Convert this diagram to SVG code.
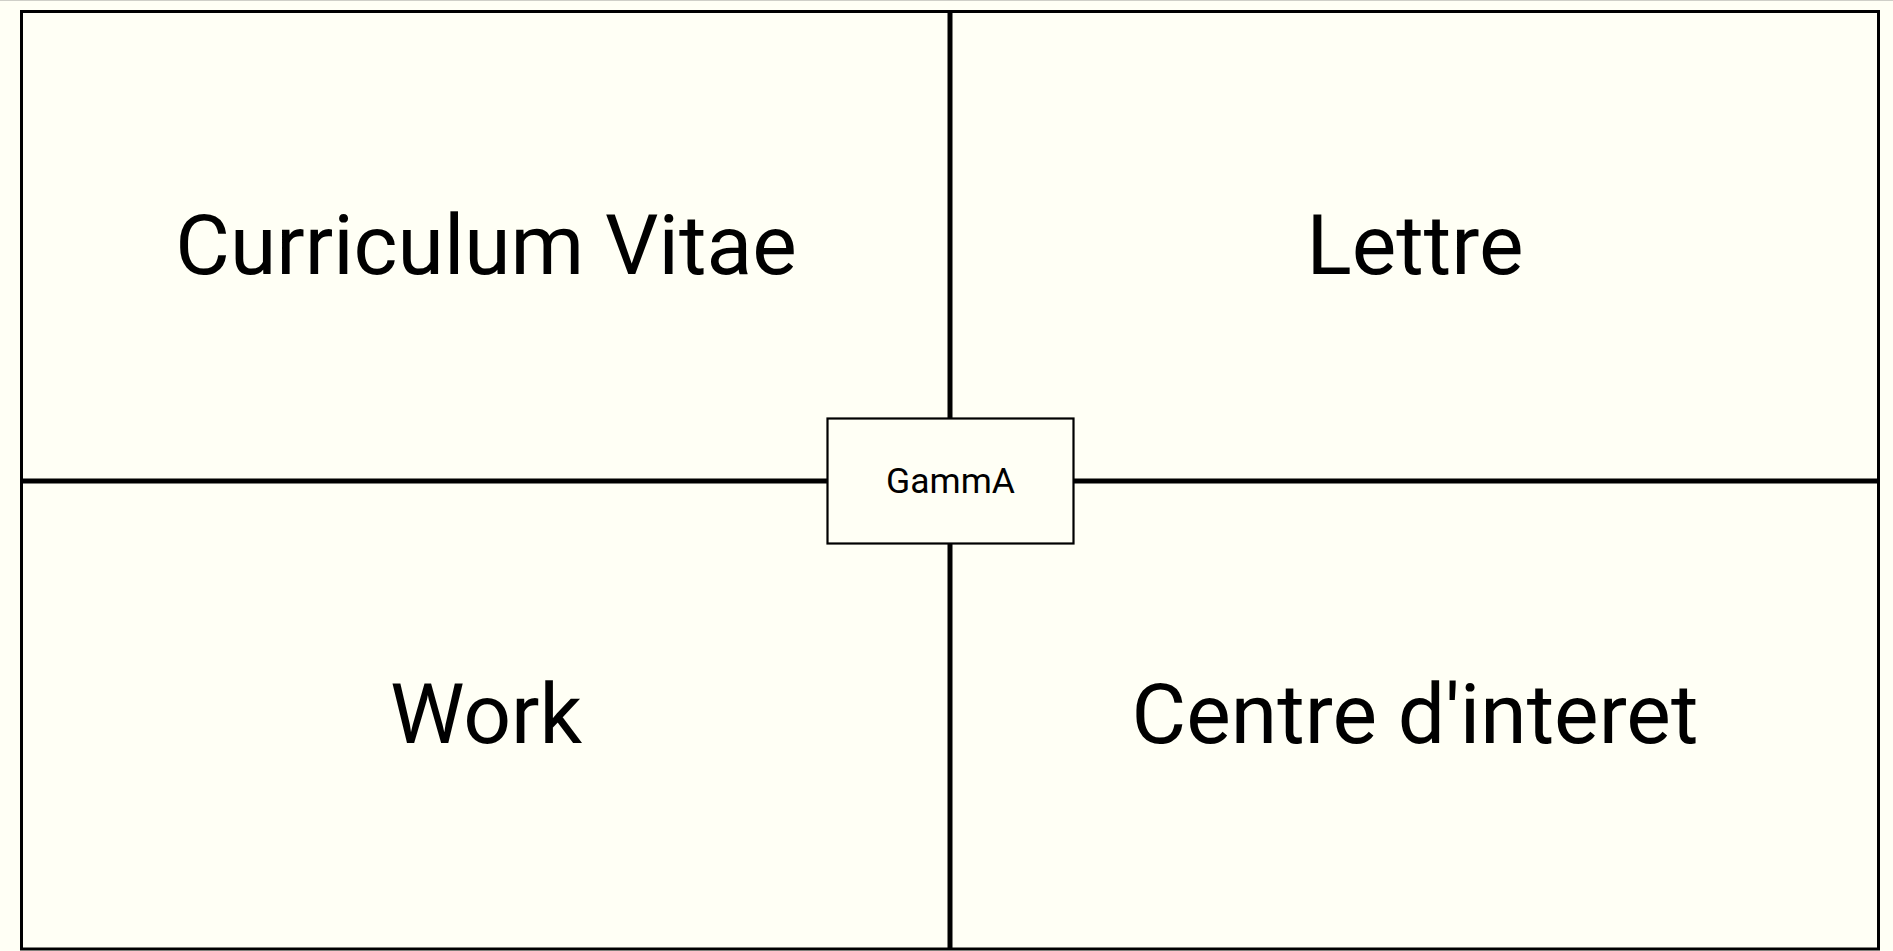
<svg xmlns="http://www.w3.org/2000/svg" width="1893" height="951" viewBox="0 0 1893 951">
  <style>
    .bg { fill: #fffff5; }
    .frame { fill: none; stroke: #000; stroke-width: 3; }
    .divider { stroke: #000; stroke-width: 5; fill: none; }
    .box { fill: #fffff5; stroke: #000; stroke-width: 2.2; }
    .big { font-family: Roboto, "Liberation Sans", sans-serif; font-size: 84px; fill: #000; text-anchor: middle; }
    .small { font-family: Roboto, "Liberation Sans", sans-serif; font-size: 35.5px; fill: #000; text-anchor: middle; }
  </style>
  <rect class="bg" x="0" y="0" width="1893" height="951"/>
  <line x1="0" y1="0.5" x2="1893" y2="0.5" stroke="#cfcfc8" stroke-width="1"/>
  <rect id="frame" class="frame" x="21.5" y="11.5" width="1857" height="937.5"/>
  <g id="connectors">
    <line class="divider" x1="950" y1="11.5" x2="950" y2="418.5"/>
    <line class="divider" x1="950" y1="543.5" x2="950" y2="949"/>
    <line class="divider" x1="21.5" y1="481" x2="827.5" y2="481"/>
    <line class="divider" x1="1073.5" y1="481" x2="1878.5" y2="481"/>
  </g>
  <g id="curriculum-vitae">
    <text class="big" x="486" y="274">Curriculum Vitae</text>
  </g>
  <g id="lettre">
    <text class="big" x="1415" y="274">Lettre</text>
  </g>
  <g id="work">
    <text class="big" x="486" y="743">Work</text>
  </g>
  <g id="centre-interet">
    <text class="big" x="1415" y="743">Centre d'interet</text>
  </g>
  <g id="gamma">
    <rect class="box" x="827.5" y="418.5" width="246" height="125"/>
    <text class="small" x="950.5" y="492.5">GammA</text>
  </g>
</svg>
